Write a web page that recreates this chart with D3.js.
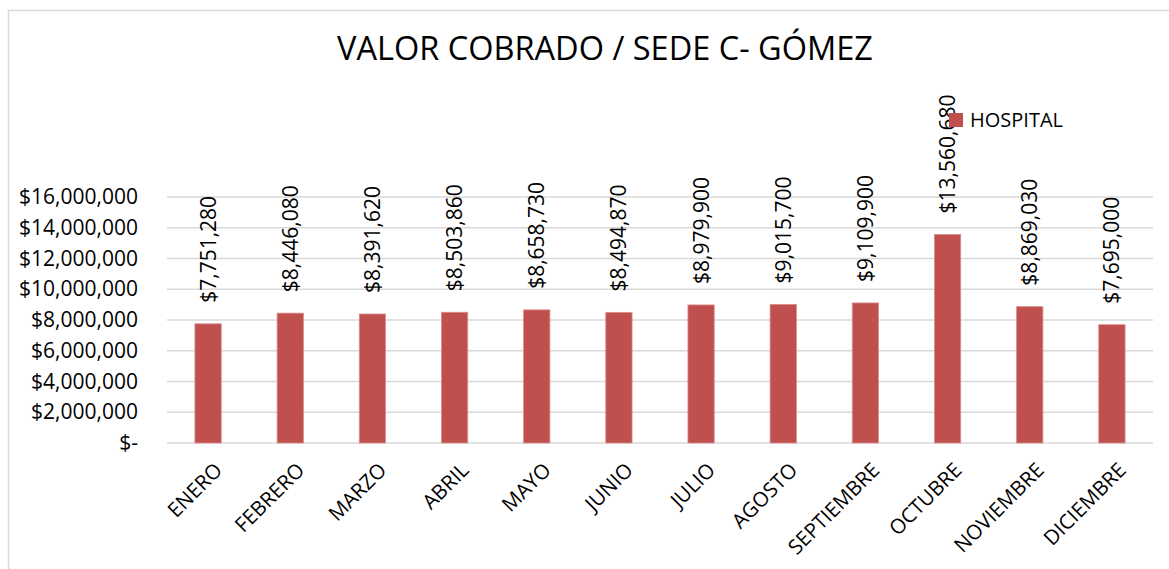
<!DOCTYPE html>
<html>
<head>
<meta charset="utf-8">
<script src="https://cdn.jsdelivr.net/npm/d3@7"></script>
<style>
  html, body { margin: 0; padding: 0; background: #fff; }
  svg text { font-family: "Open Sans", "Noto Sans", sans-serif; fill: #000; }
</style>
</head>
<body>
<div id="chart"></div>
<script>
// Valor cobrado por mes - sede C- Gómez
const months = ["ENERO", "FEBRERO", "MARZO", "ABRIL", "MAYO", "JUNIO",
    "JULIO", "AGOSTO", "SEPTIEMBRE", "OCTUBRE", "NOVIEMBRE", "DICIEMBRE"];
const hospital = [7751280, 8446080, 8391620, 8503860, 8658730, 8494870,
    8979900, 9015700, 9109900, 13560680, 8869030, 7695000];
const yTicks = [0, 2000000, 4000000, 6000000, 8000000, 10000000, 12000000, 14000000, 16000000];
const seriesName = "HOSPITAL";
const title = "VALOR COBRADO / SEDE C- GÓMEZ";

{
    const width = 1169, height = 569;
    const plot = { left: 167, right: 1153, top: 197, bottom: 443 };
    const barColor = "#c0504d";
    const gridColor = "#d9d9d9";

    const svg = d3.select("#chart")
        .append("svg")
        .attr("width", width)
        .attr("height", height);

    // chart frame
    svg.append("rect")
        .attr("x", 8.5)
        .attr("y", 10.5)
        .attr("width", width + 10)
        .attr("height", height + 10)
        .attr("fill", "none")
        .attr("stroke", gridColor)
        .attr("stroke-width", 1.5);

    const x = d3.scaleBand()
        .domain(months)
        .range([plot.left, plot.right])
        .paddingInner(0.68)
        .paddingOuter(0.34);

    const y = d3.scaleLinear()
        .domain([0, 16000000])
        .range([plot.bottom, plot.top]);

    // gridlines
    svg.append("g")
        .selectAll("line")
        .data(yTicks)
        .join("line")
        .attr("x1", plot.left)
        .attr("x2", plot.right)
        .attr("y1", d => y(d))
        .attr("y2", d => y(d))
        .attr("stroke", gridColor)
        .attr("stroke-width", 1.3);

    // y axis labels
    const yFmt = d => d === 0 ? "$-" : d3.format("$,")(d);
    const yAxis = svg.append("g")
        .attr("transform", `translate(${plot.left - 29}, 0)`)
        .call(d3.axisLeft(y).tickValues(yTicks).tickFormat(yFmt).tickSize(0).tickPadding(0));
    yAxis.select(".domain").remove();
    yAxis.selectAll("text")
        .attr("font-size", "21px")
        .attr("font-family", "Open Sans")
        .attr("fill", "#000");

    // bars
    svg.append("g")
        .selectAll("rect")
        .data(hospital)
        .join("rect")
        .attr("x", (d, i) => x(months[i]))
        .attr("y", d => y(d))
        .attr("width", x.bandwidth())
        .attr("height", d => y(0) - y(d))
        .attr("fill", barColor)
        .attr("stroke", "#d98f8d")
        .attr("stroke-width", 0.8);

    // value labels, rotated
    svg.append("g")
        .selectAll("text")
        .data(hospital)
        .join("text")
        .attr("transform", (d, i) =>
            `translate(${x(months[i]) + x.bandwidth() / 2}, ${y(d) - 21}) rotate(-90)`)
        .attr("dy", "0.36em")
        .attr("text-anchor", "start")
        .attr("font-size", "21px")
        .text(d => d3.format("$,")(d));

    // x axis labels, rotated -45
    svg.append("g")
        .selectAll("text")
        .data(months)
        .join("text")
        .attr("transform", d =>
            `translate(${x(d) + x.bandwidth() / 2 + 5}, 461) rotate(-45)`)
        .attr("dy", "0.72em")
        .attr("text-anchor", "end")
        .attr("font-size", "20.5px")
        .text(d => d);

    // title
    svg.append("text")
        .attr("x", 605)
        .attr("y", 60)
        .attr("text-anchor", "middle")
        .attr("font-size", "32.5px")
        .text(title);

    // legend
    const legend = svg.append("g").attr("transform", "translate(949, 113)");
    legend.append("rect")
        .attr("width", 14)
        .attr("height", 14)
        .attr("fill", barColor);
    legend.append("text")
        .attr("x", 21)
        .attr("y", 7)
        .attr("dy", "0.35em")
        .attr("font-size", "20px")
        .text(seriesName);
}
</script>
</body>
</html>
